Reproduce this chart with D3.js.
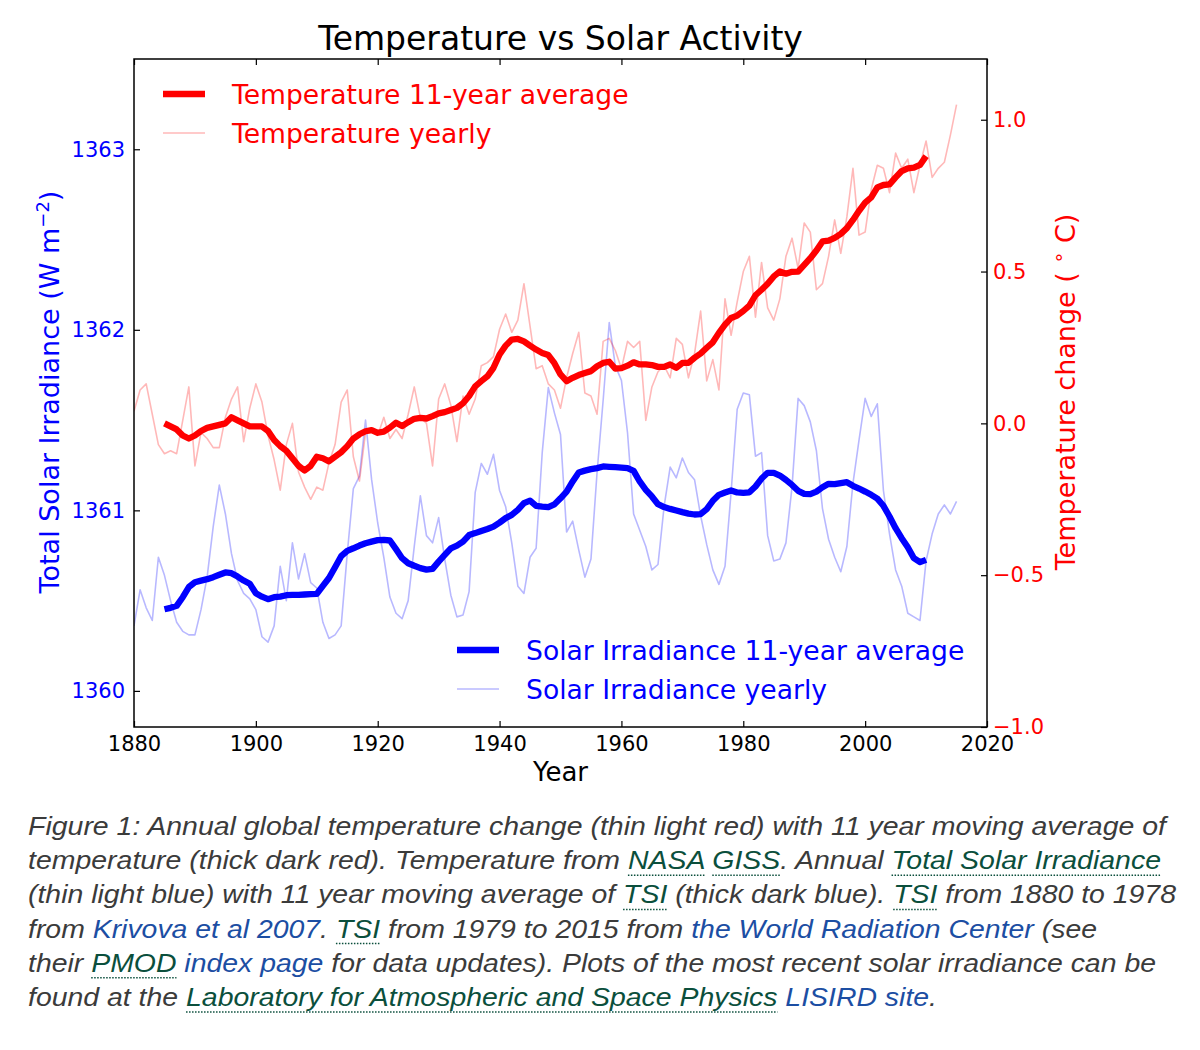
<!DOCTYPE html>
<html><head><meta charset="utf-8">
<script src="https://cdn.jsdelivr.net/npm/d3@7/dist/d3.min.js"></script>
<style>
html,body{margin:0;padding:0;background:#fff;}
svg{display:block;}
</style>
</head><body>
<svg id="chart" width="1200" height="1050"></svg>
<script>
// ---------------- data ----------------
const yearlyStart = 1880;
const avgStart = 1885;
const xTicks = [1880, 1900, 1920, 1940, 1960, 1980, 2000, 2020];
const leftTicks = [1360, 1361, 1362, 1363];
const rightTicks = [-1.0, -0.5, 0.0, 0.5, 1.0];

const tempYearly = [
 0.04, 0.11, 0.13, 0.03,-0.07,-0.10,-0.09,-0.10, 0.01, 0.12,   // 1880-1889
-0.14,-0.03,-0.05,-0.08,-0.08, 0.02, 0.08, 0.12,-0.06, 0.05,   // 1890-1899
 0.13, 0.07,-0.04,-0.12,-0.22,-0.07, 0.00,-0.16,-0.21,-0.25,   // 1900-1909
-0.21,-0.22,-0.13,-0.07, 0.07, 0.11,-0.11,-0.19,-0.03,-0.02,   // 1910-1919
-0.04, 0.02,-0.05,-0.02,-0.05, 0.03, 0.12, 0.02, 0.00,-0.14,   // 1920-1929
 0.08, 0.13, 0.06,-0.06, 0.09, 0.03, 0.08, 0.19, 0.20, 0.22,   // 1930-1939
 0.31, 0.36, 0.30, 0.34, 0.46, 0.32, 0.18, 0.19, 0.13, 0.11,   // 1940-1949
 0.05, 0.15, 0.23, 0.30, 0.10, 0.09, 0.03, 0.27, 0.28, 0.24,   // 1950-1959
 0.18, 0.27, 0.25, 0.27, 0.01, 0.12, 0.17, 0.19, 0.15, 0.28,   // 1960-1969
 0.26, 0.15, 0.23, 0.37, 0.14, 0.21, 0.11, 0.41, 0.29, 0.40,   // 1970-1979
 0.50, 0.55, 0.35, 0.53, 0.38, 0.34, 0.41, 0.55, 0.61, 0.51,   // 1980-1989
 0.66, 0.63, 0.44, 0.46, 0.55, 0.67, 0.56, 0.68, 0.84, 0.62,   // 1990-1999
 0.63, 0.77, 0.85, 0.84, 0.76, 0.89, 0.84, 0.87, 0.76, 0.85,   // 2000-2009
 0.93, 0.81, 0.84, 0.86, 0.95, 1.05                            // 2010-2015
];

const tempAvg = [
 0.000,-0.010,-0.020,-0.040,-0.050,                            // 1885-1889
-0.040,-0.025,-0.015,-0.010,-0.005, 0.000, 0.020, 0.010, 0.000,-0.010, // 1890-1899
-0.010,-0.010,-0.025,-0.055,-0.075,-0.090,-0.115,-0.140,-0.155,-0.140, // 1900-1909
-0.110,-0.115,-0.125,-0.110,-0.095,-0.075,-0.050,-0.036,-0.026,-0.022, // 1910-1919
-0.031,-0.027,-0.014, 0.002,-0.009, 0.004, 0.015, 0.018, 0.016, 0.024, // 1920-1929
 0.033, 0.037, 0.044, 0.051, 0.066, 0.090, 0.122, 0.139, 0.155, 0.183, // 1930-1939
 0.227, 0.256, 0.276, 0.278, 0.270, 0.256, 0.243, 0.232, 0.225, 0.198, // 1940-1949
 0.161, 0.139, 0.150, 0.159, 0.166, 0.172, 0.188, 0.199, 0.203, 0.180, // 1950-1959
 0.182, 0.190, 0.201, 0.194, 0.194, 0.192, 0.186, 0.186, 0.194, 0.183, // 1960-1969
 0.199, 0.199, 0.216, 0.230, 0.249, 0.267, 0.298, 0.325, 0.347, 0.355, // 1970-1979
 0.370, 0.388, 0.422, 0.440, 0.460, 0.484, 0.500, 0.493, 0.499, 0.500, // 1980-1989
 0.522, 0.544, 0.569, 0.599, 0.602, 0.611, 0.624, 0.643, 0.670, 0.700, // 1990-1999
 0.727, 0.744, 0.777, 0.785, 0.787, 0.810, 0.831, 0.840, 0.842, 0.851, // 2000-2009
 0.880                                                          // 2010
];

const tsiYearly = [
 1360.36,1360.56,1360.46,1360.39,1360.74,1360.64,1360.50,1360.38,1360.33,1360.31, // 1880-1889
 1360.31,1360.45,1360.63,1360.91,1361.14,1360.98,1360.76,1360.61,1360.54,1360.51, // 1890-1899
 1360.45,1360.30,1360.27,1360.36,1360.69,1360.50,1360.82,1360.62,1360.76,1360.60, // 1900-1909
 1360.57,1360.38,1360.29,1360.31,1360.36,1360.76,1361.12,1361.19,1361.50,1361.17, // 1910-1919
 1360.93,1360.74,1360.52,1360.43,1360.40,1360.50,1360.80,1361.08,1360.86,1360.82, // 1920-1929
 1360.96,1360.73,1360.53,1360.41,1360.42,1360.55,1361.10,1361.26,1361.20,1361.31, // 1930-1939
 1361.11,1361.02,1360.82,1360.58,1360.54,1360.74,1360.79,1361.32,1361.68,1361.54, // 1940-1949
 1361.42,1360.88,1360.94,1360.78,1360.63,1360.73,1361.21,1361.61,1362.04,1361.80, // 1950-1959
 1361.72,1361.43,1360.98,1360.89,1360.80,1360.67,1360.70,1361.02,1361.24,1361.18, // 1960-1969
 1361.29,1361.21,1361.17,1360.97,1360.81,1360.67,1360.59,1360.69,1361.10,1361.56, // 1970-1979
 1361.65,1361.64,1361.30,1361.32,1360.86,1360.72,1360.73,1360.82,1361.13,1361.62, // 1980-1989
 1361.58,1361.49,1361.33,1361.01,1360.84,1360.74,1360.66,1360.80,1361.15,1361.39, // 1990-1999
 1361.62,1361.52,1361.59,1361.11,1360.87,1360.67,1360.58,1360.43,1360.41,1360.39, // 2000-2009
 1360.72,1360.87,1360.98,1361.03,1360.98,1361.05                                  // 2010-2015
];

const tsiAvg = [
 1360.452,1360.460,1360.471,1360.519,1360.575,                                         // 1885-1889
 1360.602,1360.611,1360.619,1360.630,1360.643,1360.656,1360.652,1360.633,1360.611,1360.593, // 1890-1899
 1360.541,1360.522,1360.508,1360.519,1360.522,1360.530,1360.532,1360.532,1360.534,1360.536, // 1900-1909
 1360.537,1360.582,1360.625,1360.685,1360.746,1360.776,1360.790,1360.805,1360.818,1360.827, // 1910-1919
 1360.835,1360.837,1360.833,1360.785,1360.735,1360.707,1360.693,1360.680,1360.672,1360.676, // 1920-1929
 1360.716,1360.753,1360.790,1360.805,1360.827,1360.863,1360.874,1360.886,1360.897,1360.910, // 1930-1939
 1360.932,1360.957,1360.975,1361.003,1361.040,1361.054,1361.025,1361.021,1361.018,1361.033, // 1940-1949
 1361.067,1361.104,1361.160,1361.210,1361.220,1361.228,1361.234,1361.243,1361.241,1361.239, // 1950-1959
 1361.237,1361.234,1361.219,1361.160,1361.114,1361.077,1361.034,1361.018,1361.008,1360.999, // 1960-1969
 1360.990,1360.982,1360.977,1360.979,1361.007,1361.053,1361.086,1361.099,1361.110,1361.099, // 1970-1979
 1361.097,1361.100,1361.132,1361.176,1361.208,1361.208,1361.193,1361.169,1361.141,1361.108, // 1980-1989
 1361.091,1361.090,1361.104,1361.128,1361.147,1361.145,1361.151,1361.156,1361.136,1361.121, // 1990-1999
 1361.104,1361.086,1361.065,1361.025,1360.966,1360.901,1360.846,1360.796,1360.735,1360.713, // 2000-2009
 1360.726                                                                               // 2010
];

const titleText = "Temperature vs Solar Activity";
const xLabelText = "Year";
const legendTop = ["Temperature 11-year average", "Temperature yearly"];
const legendBottom = ["Solar Irradiance 11-year average", "Solar Irradiance yearly"];

// caption: [text, kind]  n = plain, g = green dotted-underlined link, b = blue link
const captionLines = [
  [["Figure 1: Annual global temperature change (thin light red) with 11 year moving average of","n"]],
  [["temperature (thick dark red). Temperature from ","n"],["NASA","g"],[" ","n"],["GISS","g"],[". Annual ","n"],["Total Solar Irradiance","g"]],
  [["(thin light blue) with 11 year moving average of ","n"],["TSI","g"],[" (thick dark blue). ","n"],["TSI","g"],[" from 1880 to 1978","n"]],
  [["from ","n"],["Krivova et al 2007","b"],[". ","n"],["TSI","g"],[" from 1979 to 2015 from ","n"],["the World Radiation Center","b"],[" (see","n"]],
  [["their ","n"],["PMOD","g"],[" ","n"],["index page","b"],[" for data updates). Plots of the most recent solar irradiance can be","n"]],
  [["found at the ","n"],["Laboratory for Atmospheric and Space Physics","g"],[" ","n"],["LISIRD site","b"],[".","n"]]
];

// ---------------- drawing ----------------
const svg = d3.select("#chart");
const L = 134, R = 987, T = 59, B = 727;
const FONT = "'DejaVu Sans', Verdana, sans-serif";

const x = d3.scaleLinear().domain([1880, 2020]).range([L, R]);
const yL = d3.scaleLinear().domain([1359.8, 1363.5]).range([B, T]);
const yR = d3.scaleLinear().domain([-1.0, 1.2]).range([B, T]);

const yearly = (arr) => arr.map((v, i) => ({year: yearlyStart + i, v}));
const avg = (arr) => arr.map((v, i) => ({year: avgStart + i, v}));

const plot = svg.append("g");
const clipId = "plotclip";
svg.append("defs").append("clipPath").attr("id", clipId)
  .append("rect").attr("x", L).attr("y", T).attr("width", R - L).attr("height", B - T);

const lineL = d3.line().x(d => x(d.year)).y(d => yL(d.v));
const lineR = d3.line().x(d => x(d.year)).y(d => yR(d.v));

const g = plot.append("g").attr("clip-path", `url(#${clipId})`);
g.append("path").datum(yearly(tsiYearly)).attr("d", lineL)
  .attr("fill", "none").attr("stroke", "#0000ff").attr("stroke-opacity", 0.28).attr("stroke-width", 1.6).attr("stroke-linejoin", "round");
g.append("path").datum(avg(tsiAvg)).attr("d", lineL)
  .attr("fill", "none").attr("stroke", "#0000ff").attr("stroke-width", 6.3).attr("stroke-linejoin", "round");
g.append("path").datum(yearly(tempYearly)).attr("d", lineR)
  .attr("fill", "none").attr("stroke", "#ff0000").attr("stroke-opacity", 0.28).attr("stroke-width", 1.6).attr("stroke-linejoin", "round");
g.append("path").datum(avg(tempAvg)).attr("d", lineR)
  .attr("fill", "none").attr("stroke", "#ff0000").attr("stroke-width", 6.3).attr("stroke-linejoin", "round");

// axes
function styleAxis(sel, color) {
  sel.select(".domain").remove();
  sel.selectAll(".tick line").attr("stroke", "#000").attr("stroke-width", 1.2);
  sel.selectAll(".tick text").attr("fill", color).attr("font-family", FONT).attr("font-size", 21);
}
const ax = svg.append("g").attr("transform", `translate(0,${B})`)
  .call(d3.axisBottom(x).tickValues(xTicks).tickFormat(d3.format("d")).tickSizeInner(-6).tickSizeOuter(0).tickPadding(9));
styleAxis(ax, "#000");
const axT = svg.append("g").attr("transform", `translate(0,${T})`)
  .call(d3.axisTop(x).tickValues(xTicks).tickFormat("").tickSizeInner(-6).tickSizeOuter(0));
styleAxis(axT, "#000");
const aL = svg.append("g").attr("transform", `translate(${L},0)`)
  .call(d3.axisLeft(yL).tickValues(leftTicks).tickFormat(d3.format("d")).tickSizeInner(-6).tickSizeOuter(0).tickPadding(9));
styleAxis(aL, "#0000ff");
const aR = svg.append("g").attr("transform", `translate(${R},0)`)
  .call(d3.axisRight(yR).tickValues(rightTicks).tickFormat(d3.format(".1f")).tickSizeInner(-6).tickSizeOuter(0).tickPadding(6));
styleAxis(aR, "#ff0000");

// frame
svg.append("rect").attr("x", L).attr("y", T).attr("width", R - L).attr("height", B - T)
  .attr("fill", "none").attr("stroke", "#000").attr("stroke-width", 1.5);

// title & axis labels
svg.append("text").attr("x", (L + R) / 2).attr("y", 50).attr("text-anchor", "middle")
  .attr("font-family", FONT).attr("font-size", 33).attr("fill", "#000").text(titleText);
svg.append("text").attr("x", (L + R) / 2).attr("y", 781).attr("text-anchor", "middle")
  .attr("font-family", FONT).attr("font-size", 26).attr("fill", "#000").text(xLabelText);

const ylab = svg.append("text").attr("transform", "translate(59,392) rotate(-90)").attr("text-anchor", "middle")
  .attr("font-family", FONT).attr("font-size", 27).attr("fill", "#0000ff");
ylab.append("tspan").text("Total Solar Irradiance (W m");
ylab.append("tspan").attr("dy", -10).attr("font-size", 18).text("\u22122");
ylab.append("tspan").attr("dy", 10).text(")");

const yrlab = svg.append("text").attr("transform", "translate(1075,392) rotate(-90)").attr("text-anchor", "middle")
  .attr("font-family", FONT).attr("font-size", 27).attr("fill", "#ff0000");
yrlab.append("tspan").text("Temperature change ( ");
yrlab.append("tspan").attr("dy", -10).attr("font-size", 19).text("\u2218");
yrlab.append("tspan").attr("dy", 10).text(" C)");

// legends
function legend(items, x0, y0, color) {
  items.forEach((label, i) => {
    const yy = y0 + i * 39;
    svg.append("line").attr("x1", x0).attr("x2", x0 + 42).attr("y1", yy).attr("y2", yy)
      .attr("stroke", color).attr("stroke-width", i === 0 ? 6.3 : 1.6).attr("stroke-opacity", i === 0 ? 1 : 0.28);
    svg.append("text").attr("x", x0 + 69).attr("y", yy).attr("dy", "0.36em")
      .attr("font-family", FONT).attr("font-size", 26.6).attr("fill", color).text(label);
  });
}
legend(legendTop, 163, 94, "#ff0000");
legend(legendBottom, 457, 650, "#0000ff");

// caption
const colors = {n: "#3b3b3b", g: "#0b4f3c", b: "#1c4ea3"};
const capTargets = [1138, 1133, 1148, 1069, 1128, 909];
captionLines.forEach((segs, li) => {
  const yb = 835 + li * 34.2;
  const t = svg.append("text").attr("x", 28).attr("y", yb)
    .attr("font-family", "'Liberation Sans', Arial, sans-serif").attr("font-style", "italic")
    .attr("font-size", 25);
  segs.forEach(([s, k]) => {
    t.append("tspan").attr("fill", colors[k]).attr("class", "k-" + k).text(s);
  });
  t.attr("textLength", capTargets[li]).attr("lengthAdjust", "spacingAndGlyphs");
  t.selectAll("tspan.k-g").each(function () {
    const bb = this.getBBox();
    svg.append("line").attr("x1", bb.x).attr("x2", bb.x + bb.width).attr("y1", yb + 6).attr("y2", yb + 6)
      .attr("stroke", colors.g).attr("stroke-width", 1.5).attr("stroke-dasharray", "1.5,1.5");
  });
});
</script>
</body></html>
